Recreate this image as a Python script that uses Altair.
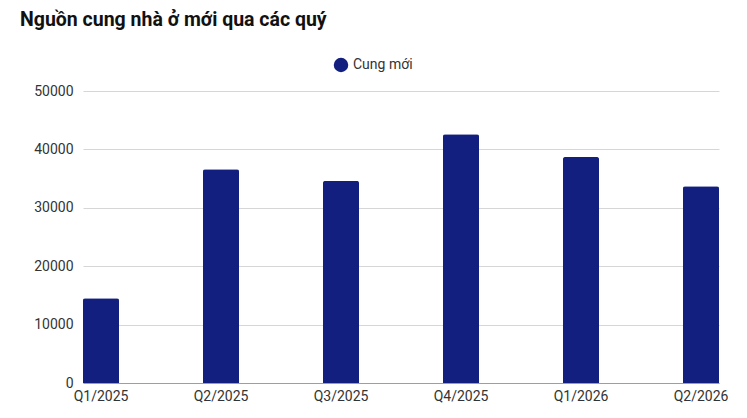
import altair as alt
import pandas as pd

quarters = ["Q1/2025", "Q2/2025", "Q3/2025", "Q4/2025", "Q1/2026", "Q2/2026"]
values = [14500, 36600, 34600, 42600, 38700, 33700]
series = ["Cung mới"] * len(quarters)

df = pd.DataFrame({"quy": quarters, "gia_tri": values, "loai": series})

chart = alt.Chart(df).mark_bar(
    cornerRadiusTopLeft=2, cornerRadiusTopRight=2
).encode(
    x=alt.X("quy:N", sort=quarters, title=None,
            scale=alt.Scale(paddingInner=0.7, paddingOuter=0),
            axis=alt.Axis(labelAngle=0, labelFontSize=14, labelColor="#333333",
                          labelFont="Roboto", domainColor="#9e9e9e", ticks=False,
                          labelPadding=6)),
    y=alt.Y("gia_tri:Q", title=None,
            scale=alt.Scale(domain=[0, 50000]),
            axis=alt.Axis(values=[0, 10000, 20000, 30000, 40000, 50000],
                          format="d", labelFontSize=14, labelColor="#333333",
                          labelFont="Roboto", domain=False, ticks=False,
                          gridColor="#d6d6d6", labelPadding=10)),
    color=alt.Color("loai:N", scale=alt.Scale(range=["#131f7e"]),
                    legend=alt.Legend(title=None, orient="none", legendX=250, legendY=-34,
                                      symbolType="circle", symbolSize=210,
                                      labelFontSize=14, labelFont="Roboto",
                                      labelColor="#333333", symbolOpacity=1)),
).properties(
    width=636, height=292,
    title=alt.TitleParams("Nguồn cung nhà ở mới qua các quý", anchor="start",
                          frame="group", dx=-63, offset=27, font="Roboto",
                          fontSize=19.5, fontWeight="bold", color="#111111"),
    autosize=alt.AutoSizeParams(type="none"),
    padding={"left": 75, "top": 83, "right": 20, "bottom": 20},
).configure_view(stroke=None)

chart.save("out.html", embed_options={"renderer": "svg", "actions": False})
